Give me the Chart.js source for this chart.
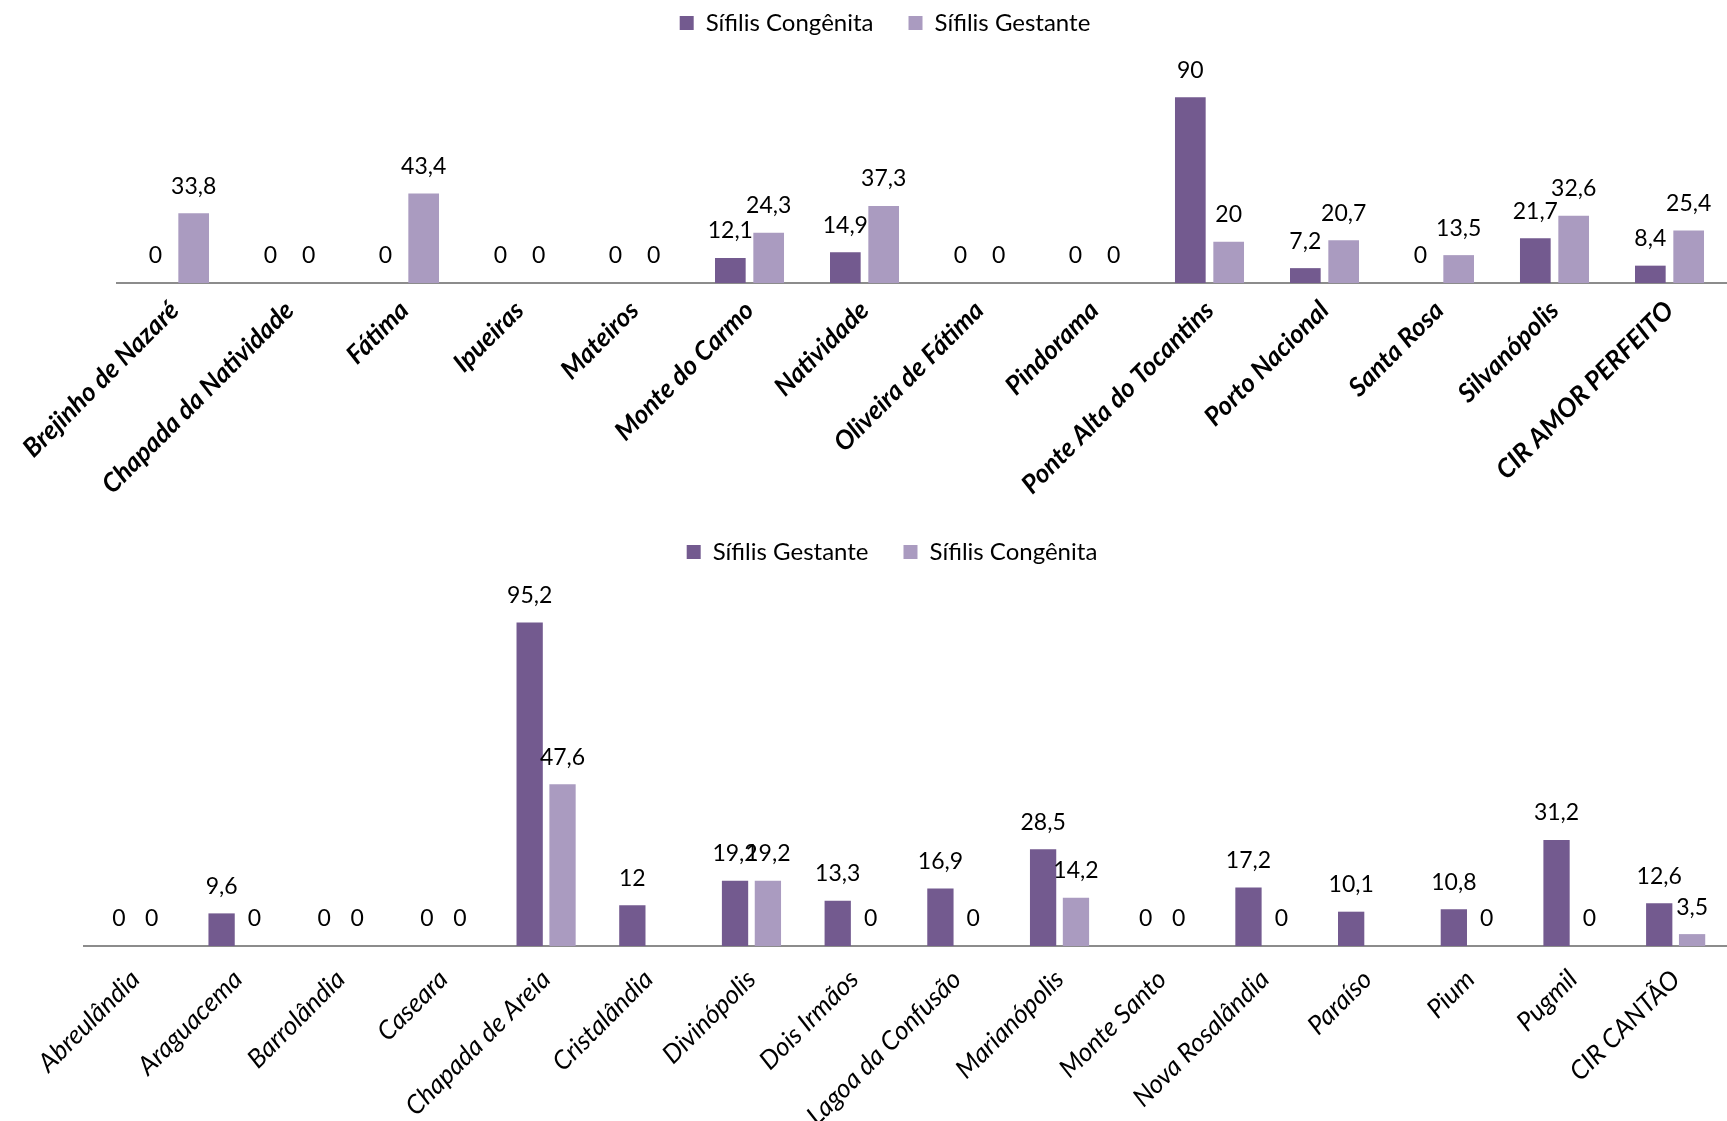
<!DOCTYPE html>
<html>
<head>
<meta charset="utf-8">
<script src="https://cdn.jsdelivr.net/npm/chart.js@4.4.1/dist/chart.umd.min.js"></script>
<style>
  html, body { margin: 0; padding: 0; background: #ffffff; }
  #wrap { position: relative; width: 1727px; height: 1121px; overflow: hidden; }
  .box { position: absolute; left: 0; width: 1727px; }
  #amor { top: -24px; height: 544px; }
  #cantao { top: 505px; height: 616px; }
</style>
</head>
<body>
<div id="wrap">
  <div class="box" id="amor"><canvas id="chartAmor"></canvas></div>
  <div class="box" id="cantao"><canvas id="chartCantao"></canvas></div>
</div>
<script>
// Região Amor Perfeito
const amorCategories = [
  'Brejinho de Nazaré', 'Chapada da Natividade', 'Fátima', 'Ipueiras', 'Mateiros',
  'Monte do Carmo', 'Natividade', 'Oliveira de Fátima', 'Pindorama',
  'Ponte Alta do Tocantins', 'Porto Nacional', 'Santa Rosa', 'Silvanópolis', 'CIR AMOR PERFEITO'
];
const amorCongenita = [0, 0, 0, 0, 0, 12.1, 14.9, 0, 0, 90, 7.2, 0, 21.7, 8.4];
const amorGestante  = [33.8, 0, 43.4, 0, 0, 24.3, 37.3, 0, 0, 20, 20.7, 13.5, 32.6, 25.4];

// Região Cantão
const cantaoCategories = [
  'Abreulândia', 'Araguacema', 'Barrolândia', 'Caseara', 'Chapada de Areia', 'Cristalândia',
  'Divinópolis', 'Dois Irmãos', 'Lagoa da Confusão', 'Marianópolis', 'Monte Santo',
  'Nova Rosalândia', 'Paraíso', 'Pium', 'Pugmil', 'CIR CANTÃO'
];
const cantaoGestante  = [0, 9.6, 0, 0, 95.2, 12, 19.2, 13.3, 16.9, 28.5, 0, 17.2, 10.1, 10.8, 31.2, 12.6];
const cantaoCongenita = [0, 0, 0, 0, 47.6, null, 19.2, 0, 0, 14.2, 0, 0, null, 0, 0, 3.5];

const DARK = '#735a8f';
const LIGHT = '#aa9bc0';
const FONT = 'Lato, "Open Sans", sans-serif';

// Writes each bar's value (decimal comma) just above it.
const valueLabels = {
  id: 'valueLabels',
  afterDatasetsDraw(chart) {
    const ctx = chart.ctx;
    ctx.save();
    ctx.font = '23px ' + FONT;
    ctx.fillStyle = '#000';
    ctx.textAlign = 'center';
    ctx.textBaseline = 'middle';
    chart.data.datasets.forEach((ds, di) => {
      const meta = chart.getDatasetMeta(di);
      meta.data.forEach((bar, i) => {
        const v = ds.data[i];
        if (v === null || v === undefined) return;
        ctx.fillText(String(v).replace('.', ','), bar.x, bar.y - 27);
      });
    });
    ctx.restore();
  }
};

function buildChart(id, labels, datasets, cfg) {
  return new Chart(document.getElementById(id), {
    type: 'bar',
    data: { labels, datasets },
    plugins: [valueLabels],
    options: {
      responsive: true,
      maintainAspectRatio: false,
      animation: false,
      layout: { padding: { top: 0, left: cfg.padLeft, right: 0, bottom: 0 } },
      datasets: { bar: { categoryPercentage: cfg.catPct, barPercentage: 0.8 } },
      plugins: {
        tooltip: { enabled: false },
        legend: {
          position: 'top',
          labels: {
            boxWidth: 14,
            boxHeight: 14,
            padding: 35,
            color: '#000',
            font: { family: FONT, size: 24 }
          }
        }
      },
      scales: {
        x: {
          grid: { display: false },
          border: { display: true, color: '#8c8c8c', width: 2 },
          ticks: {
            autoSkip: false,
            maxRotation: 45,
            minRotation: 45,
            padding: cfg.tickPad,
            color: '#000',
            font: { family: FONT, size: 26, style: 'italic', weight: cfg.tickWeight }
          },
          afterFit(scale) { scale.height = cfg.axisHeight; }
        },
        y: {
          min: 0,
          max: cfg.yMax,
          grid: { display: false },
          border: { display: false },
          ticks: { display: false },
          afterFit(scale) { scale.width = cfg.yWidth; }
        }
      }
    }
  });
}

buildChart('chartAmor', amorCategories, [
  { label: 'Sífilis Congênita', data: amorCongenita, backgroundColor: DARK },
  { label: 'Sífilis Gestante', data: amorGestante, backgroundColor: LIGHT }
], { padLeft: 43, yWidth: 74, axisHeight: 237, yMax: 115.3, catPct: 0.667, tickWeight: 'bold', tickPad: 4 });

buildChart('chartCantao', cantaoCategories, [
  { label: 'Sífilis Gestante', data: cantaoGestante, backgroundColor: DARK },
  { label: 'Sífilis Congênita', data: cantaoCongenita, backgroundColor: LIGHT }
], { padLeft: 57, yWidth: 27, axisHeight: 175, yMax: 109.5, catPct: 0.64, tickWeight: 'normal', tickPad: 10 });
</script>
</body>
</html>
